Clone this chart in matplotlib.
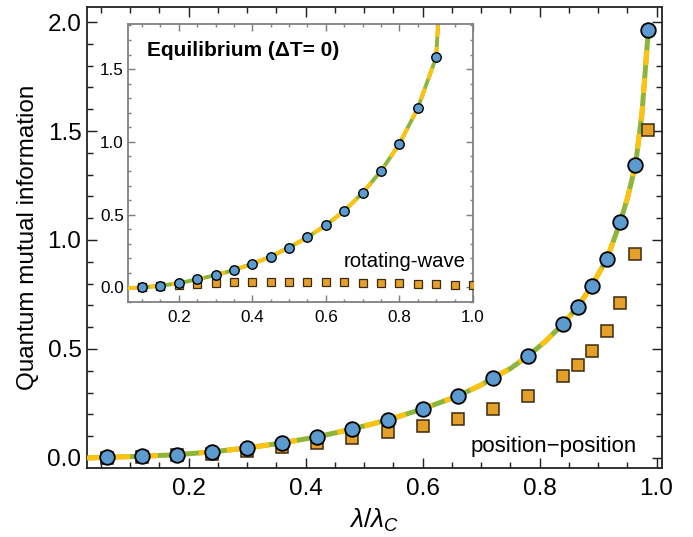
import matplotlib
matplotlib.use('Agg')
from matplotlib import pyplot as plt
from matplotlib.ticker import MultipleLocator

plt.rcParams['font.family'] = ['Liberation Sans', 'DejaVu Sans']
plt.rcParams['mathtext.fontset'] = 'custom'
plt.rcParams['mathtext.it'] = 'Liberation Sans:italic'
plt.rcParams['mathtext.rm'] = 'Liberation Sans'

# main panel (position-position coupling, Delta T != 0)
lam_main = [0.06, 0.12, 0.18, 0.24, 0.30, 0.36, 0.42, 0.48, 0.54, 0.60, 0.66,
            0.72, 0.78, 0.84, 0.865, 0.889, 0.915, 0.938, 0.964, 0.986]
qmi_circles = [0.003, 0.008, 0.015, 0.028, 0.046, 0.069, 0.097, 0.133, 0.174,
               0.225, 0.284, 0.367, 0.468, 0.615, 0.693, 0.789, 0.913, 1.083,
               1.344, 1.963]
qmi_squares = [0.0, 0.005, 0.012, 0.02, 0.033, 0.05, 0.069, 0.092, 0.119,
               0.147, 0.179, 0.225, 0.284, 0.376, 0.427, 0.491, 0.583, 0.711,
               0.936, 1.505]

lam_curve = [0.026, 0.06, 0.12, 0.18, 0.24, 0.30, 0.36, 0.42, 0.48, 0.54,
             0.60, 0.66, 0.70, 0.72, 0.75, 0.78, 0.81, 0.84, 0.865, 0.889,
             0.915, 0.938, 0.95, 0.964, 0.975, 0.986]
qmi_curve = [0.0, 0.003, 0.008, 0.015, 0.028, 0.046, 0.069, 0.097, 0.133,
             0.174, 0.225, 0.284, 0.335, 0.367, 0.41, 0.468, 0.535, 0.615,
             0.693, 0.789, 0.913, 1.083, 1.19, 1.344, 1.58, 1.963]

# inset (rotating-wave, equilibrium)
lam_in = [0.10, 0.15, 0.20, 0.25, 0.30, 0.35, 0.40, 0.45, 0.50, 0.55, 0.60,
          0.65, 0.70, 0.75, 0.80, 0.85, 0.90]
qmi_in_circles = [0.0, 0.012, 0.029, 0.056, 0.084, 0.12, 0.162, 0.212, 0.274,
                  0.345, 0.428, 0.526, 0.65, 0.80, 0.987, 1.232, 1.583]
lam_in_sq = [0.10, 0.15, 0.20, 0.25, 0.30, 0.35, 0.40, 0.45, 0.50, 0.55, 0.60,
             0.65, 0.70, 0.75, 0.80, 0.85, 0.90, 0.95, 1.00]
qmi_in_squares = [0.0, 0.01, 0.02, 0.025, 0.032, 0.037, 0.039, 0.039, 0.039,
                  0.037, 0.036, 0.035, 0.032, 0.03, 0.028, 0.026, 0.023,
                  0.02, 0.018]
lam_in_curve = [0.062] + lam_in + [0.906]
qmi_in_curve = [-0.005] + qmi_in_circles + [1.85]

blue = '#5b9bd0'
orange = '#e5a02a'
green = '#8db53a'
yellow = '#ffc20e'


def style_axes(ax, color, width, major_len, minor_len):
    for s in ax.spines.values():
        s.set_color(color)
        s.set_linewidth(width)
    ax.tick_params(which='both', direction='in', top=True, right=True,
                   color=color, width=width * 0.8)
    ax.tick_params(which='major', length=major_len)
    ax.tick_params(which='minor', length=minor_len)


fig = plt.figure(figsize=(6.93, 5.37), dpi=100)
ax = fig.add_axes([0.1255, 0.1285, 0.8295, 0.8585])

ax.plot(lam_curve, qmi_curve, color=green, lw=3.6, solid_capstyle='butt', zorder=2)
ax.plot(lam_curve, qmi_curve, color=yellow, lw=3.6, ls=(0, (3, 2.6)), zorder=3)
ax.plot(lam_main, qmi_squares, 's', ms=8, mfc=orange, mec='#3a2a10', mew=1.1, zorder=4)
ax.plot(lam_main, qmi_circles, 'o', ms=10.5, mfc=blue, mec='black', mew=1.3, zorder=5)

ax.set_xlim(0.026, 1.009)
ax.set_ylim(-0.046, 2.069)
ax.set_xticks([0.2, 0.4, 0.6, 0.8, 1.0])
ax.set_yticks([0.0, 0.5, 1.0, 1.5, 2.0])
ax.xaxis.set_minor_locator(MultipleLocator(0.05))
ax.yaxis.set_minor_locator(MultipleLocator(0.1))
style_axes(ax, '#222222', 1.3, 7, 4)
ax.tick_params(labelsize=17.5)
ax.tick_params(axis='y', pad=4)
ax.tick_params(axis='x', pad=7)
ax.set_ylabel('Quantum mutual information', fontsize=17.5, labelpad=6)
ax.set_xlabel(r'$\lambda/\lambda_C$', fontsize=19, labelpad=5)
ax.text(0.9565, 0.046, 'position\u2212position', transform=ax.transAxes,
        ha='right', va='center', fontsize=16)

axin = fig.add_axes([0.1847, 0.4376, 0.4978, 0.5177])
axin.plot(lam_in_curve, qmi_in_curve, color=green, lw=2.8, solid_capstyle='butt', zorder=2)
axin.plot(lam_in_curve, qmi_in_curve, color=yellow, lw=2.8, ls=(0, (3, 2.6)), zorder=3)
axin.plot(lam_in_sq, qmi_in_squares, 's', ms=5.5, mfc=orange, mec='#3a2a10', mew=0.9, zorder=4)
axin.plot(lam_in, qmi_in_circles, 'o', ms=6.8, mfc=blue, mec='black', mew=1.0, zorder=5)
axin.set_xlim(0.062, 1.0)
axin.set_ylim(-0.10, 1.81)
axin.set_xticks([0.2, 0.4, 0.6, 0.8, 1.0])
axin.set_yticks([0.0, 0.5, 1.0, 1.5])
axin.xaxis.set_minor_locator(MultipleLocator(0.05))
axin.yaxis.set_minor_locator(MultipleLocator(0.1))
style_axes(axin, '#808080', 1.3, 5, 2.5)
axin.tick_params(labelsize=12.3)
axin.tick_params(axis='y', pad=3)
axin.tick_params(axis='x', pad=6)
axin.text(0.055, 0.906, 'Equilibrium (\u0394T= 0)', transform=axin.transAxes,
          ha='left', va='center', fontsize=15, fontweight='bold')
axin.text(0.977, 0.144, 'rotating-wave', transform=axin.transAxes,
          ha='right', va='center', fontsize=14.6)

fig.savefig('out.png', dpi=100)
